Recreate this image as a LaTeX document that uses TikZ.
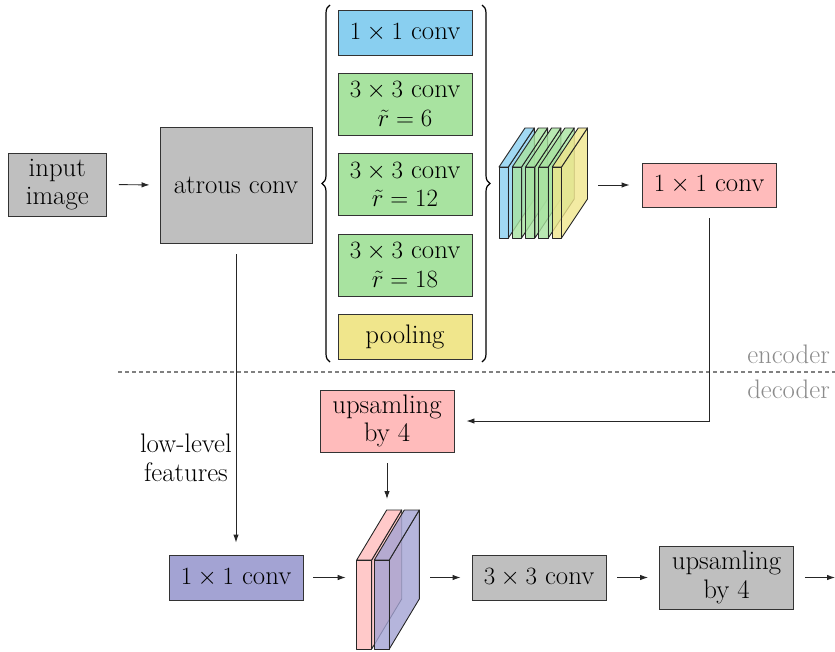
\documentclass[tikz,border=0pt]{standalone}
\usetikzlibrary{arrows.meta,decorations.pathreplacing}
\definecolor{cGray}{RGB}{191,191,191}
\definecolor{cBlue}{RGB}{137,207,240}
\definecolor{cGreen}{RGB}{168,227,160}
\definecolor{cYellow}{RGB}{240,230,140}
\definecolor{cPink}{RGB}{255,187,187}
\definecolor{cPurple}{RGB}{163,163,211}
% one feature-map slab: front x, front y, width, height, depth dx, depth rise, colour
\newcommand\featslab[7]{%
  \filldraw[slab,fill=#7] (#1+#3,#2) -- (#1+#3+#5,#2-#6) -- (#1+#3+#5,#2+#4-#6) -- (#1+#3,#2+#4) -- cycle;
  \filldraw[slab,fill=#7] (#1,#2) -- (#1+#5,#2-#6) -- (#1+#3+#5,#2-#6) -- (#1+#3,#2) -- cycle;
  \filldraw[slab,fill=#7] (#1,#2) rectangle (#1+#3,#2+#4);
}
\begin{document}
\begin{tikzpicture}[x=1pt,y=-1pt,
  every node/.style={font=\fontsize{26.8}{28.5}\selectfont},
  box/.style={draw=black!80,line width=0.9pt,inner sep=0pt,align=center,minimum width=134pt},
  flow/.style={draw=black!85,line width=0.9pt,-{Latex[length=8pt,width=5.5pt]}},
  slab/.style={draw=black!85,line width=0.9pt,fill opacity=0.8,line join=round},
  bracket/.style={draw=black,line width=1.2pt,decorate,decoration={brace,amplitude=8pt}},
]
\useasboundingbox (0,0) rectangle (835,651);

% encoder
\node[box,fill=cGray,minimum width=98.5pt,minimum height=63pt] (inp) at (57.25,184.5) {input\\image};
\node[box,fill=cGray,minimum width=152pt,minimum height=116pt] (atr) at (236,185) {atrous conv};

\node[box,fill=cBlue,minimum height=45pt] (b1) at (405,32.5) {$1\times 1$ conv};
\node[box,fill=cGreen,minimum height=62pt] (b2) at (405,104) {$3\times 3$ conv\\$\tilde{r}=6$};
\node[box,fill=cGreen,minimum height=62pt] (b3) at (405,184.5) {$3\times 3$ conv\\$\tilde{r}=12$};
\node[box,fill=cGreen,minimum height=62pt] (b4) at (405,265) {$3\times 3$ conv\\$\tilde{r}=18$};
\node[box,fill=cYellow,minimum height=45pt] (pool) at (405,336.5) {pooling};

\draw[bracket] (330,362) -- (330,5);
\draw[bracket] (482,5) -- (482,362);

\featslab{499}{167}{9.3}{71}{26}{39}{cBlue}
\featslab{512.3}{167}{9.3}{71}{26}{39}{cGreen}
\featslab{525.6}{167}{9.3}{71}{26}{39}{cGreen}
\featslab{538.9}{167}{9.3}{71}{26}{39}{cGreen}
\featslab{552.2}{167}{9.3}{71}{26}{39}{cYellow}
\coordinate (catE) at (588,185);

\node[box,fill=cPink,minimum height=44pt] (enc) at (709,185) {$1\times 1$ conv};

% encoder / decoder split
\draw[black!50,line width=1.3pt,dash pattern=on 4pt off 3pt] (118,372) -- (835,372);
\node[anchor=base east,text=black!45,inner sep=0pt] (lenc) at (830,363) {encoder};
\node[anchor=base east,text=black!45,inner sep=0pt] (ldec) at (830,398) {decoder};

% decoder
\node[box,fill=cPink,minimum height=62pt] (up1) at (387,421) {upsamling\\by 4};
\node[box,fill=cPurple,minimum height=45pt] (low) at (236,577.5) {$1\times 1$ conv};

\featslab{356.7}{560}{15}{89}{30}{50}{cPink}
\featslab{374.3}{560}{15}{89}{30}{50}{cPurple}
\coordinate (catW) at (356.7,577.5);
\coordinate (catE2) at (418.3,577.5);
\coordinate (catN) at (387,510);

\node[box,fill=cGray,minimum height=45pt] (c3) at (539,577.5) {$3\times 3$ conv};
\node[box,fill=cGray,minimum height=63pt] (up2) at (726.5,577.5) {upsamling\\by 4};
\coordinate (out) at (835,577.5);

% connectors
\draw[flow,shorten <=12pt,shorten >=10pt] (inp.east) -- (atr.west);
\draw[flow,shorten <=10pt,shorten >=12pt] (catE) -- (enc.west);
\draw[flow,shorten <=11pt,shorten >=12pt] (enc.south) -- (enc.south |- up1.east) -- (up1.east);
\draw[flow,shorten <=11pt,shorten >=12pt] (atr.south) -- (low.north);
\node[anchor=east,align=center,inner sep=0pt] (llf) at (232,458) {low-level\\features};
\draw[flow,shorten <=11pt,shorten >=11pt] (up1.south) -- (catN);
\draw[flow,shorten <=10pt,shorten >=11pt] (low.east) -- (catW);
\draw[flow,shorten <=12pt,shorten >=11pt] (catE2) -- (c3.west);
\draw[flow,shorten <=11pt,shorten >=11pt] (c3.east) -- (up2.west);
\draw[flow,shorten <=11pt] (up2.east) -- (out);
\end{tikzpicture}
\end{document}
